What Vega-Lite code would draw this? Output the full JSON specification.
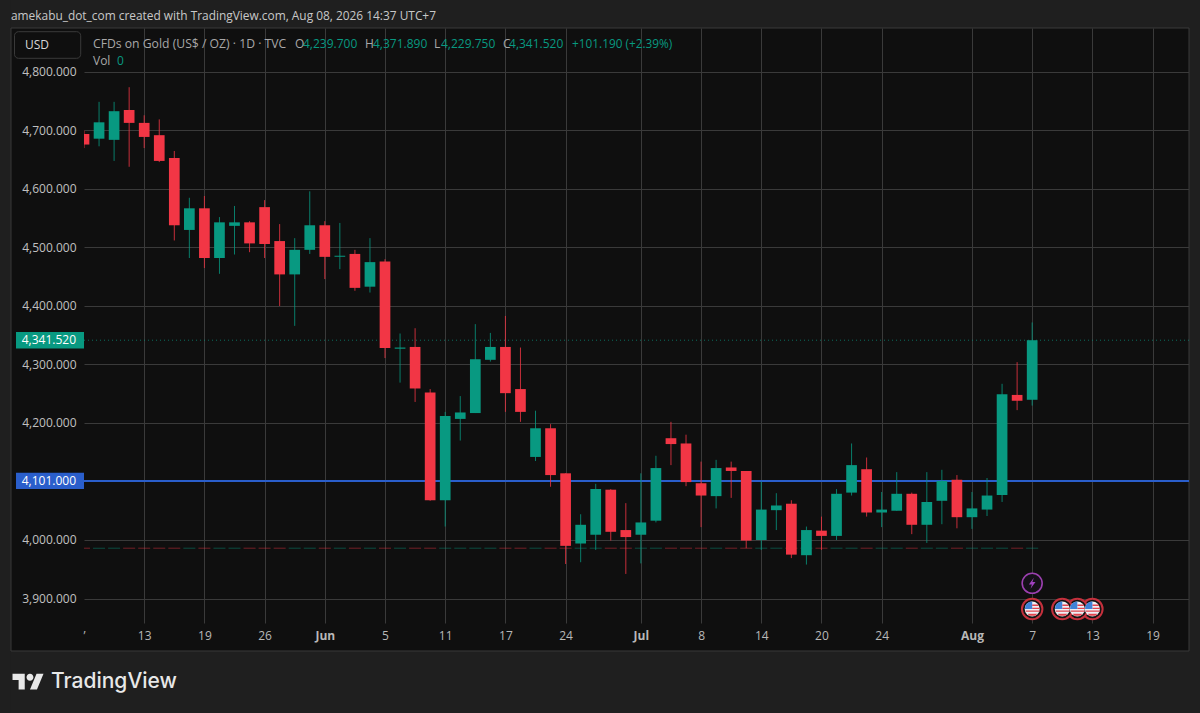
{"$schema":"https://vega.github.io/schema/vega-lite/v6.json","width":1105,"height":595,"autosize":"none","padding":{"left":84,"top":28,"right":11,"bottom":90},"background":"#0f0f0f","config":{"view":{"stroke":null},"font":"Open Sans"},
"datasets":{"candles":[
{"session":-4,"date":"2026-05-07","open":4694,"high":4700,"low":4670,"close":4676,"dir":"down"},
{"session":-3,"date":"2026-05-08","open":4686,"high":4749,"low":4673,"close":4714,"dir":"up"},
{"session":-2,"date":"2026-05-11","open":4684,"high":4749,"low":4648,"close":4733,"dir":"up"},
{"session":-1,"date":"2026-05-12","open":4735,"high":4774,"low":4638,"close":4713,"dir":"down"},
{"session":0,"date":"2026-05-13","open":4713,"high":4726,"low":4670,"close":4689,"dir":"down"},
{"session":1,"date":"2026-05-14","open":4692,"high":4719,"low":4646,"close":4648,"dir":"down"},
{"session":2,"date":"2026-05-15","open":4653,"high":4665,"low":4512,"close":4538,"dir":"down"},
{"session":3,"date":"2026-05-18","open":4530,"high":4585,"low":4482,"close":4567,"dir":"up"},
{"session":4,"date":"2026-05-19","open":4567,"high":4588,"low":4465,"close":4482,"dir":"down"},
{"session":5,"date":"2026-05-20","open":4482,"high":4552,"low":4455,"close":4543,"dir":"up"},
{"session":6,"date":"2026-05-21","open":4537,"high":4571,"low":4488,"close":4543,"dir":"up"},
{"session":7,"date":"2026-05-22","open":4543,"high":4545,"low":4492,"close":4507,"dir":"down"},
{"session":8,"date":"2026-05-26","open":4569,"high":4581,"low":4482,"close":4506,"dir":"down"},
{"session":9,"date":"2026-05-27","open":4511,"high":4540,"low":4400,"close":4454,"dir":"down"},
{"session":10,"date":"2026-05-28","open":4454,"high":4516,"low":4366,"close":4496,"dir":"up"},
{"session":11,"date":"2026-05-29","open":4496,"high":4596,"low":4489,"close":4538,"dir":"up"},
{"session":12,"date":"2026-06-01","open":4538,"high":4545,"low":4446,"close":4484,"dir":"down"},
{"session":13,"date":"2026-06-02","open":4484,"high":4542,"low":4463,"close":4486,"dir":"up"},
{"session":14,"date":"2026-06-03","open":4489,"high":4496,"low":4426,"close":4431,"dir":"down"},
{"session":15,"date":"2026-06-04","open":4433,"high":4516,"low":4423,"close":4475,"dir":"up"},
{"session":16,"date":"2026-06-05","open":4476,"high":4480,"low":4311,"close":4328,"dir":"down"},
{"session":17,"date":"2026-06-08","open":4327,"high":4353,"low":4269,"close":4329,"dir":"up"},
{"session":18,"date":"2026-06-09","open":4330,"high":4362,"low":4236,"close":4259,"dir":"down"},
{"session":19,"date":"2026-06-10","open":4252,"high":4258,"low":4067,"close":4068,"dir":"down"},
{"session":20,"date":"2026-06-11","open":4068,"high":4219,"low":4023,"close":4212,"dir":"up"},
{"session":21,"date":"2026-06-12","open":4207,"high":4246,"low":4170,"close":4218,"dir":"up"},
{"session":22,"date":"2026-06-15","open":4217,"high":4369,"low":4217,"close":4309,"dir":"up"},
{"session":23,"date":"2026-06-16","open":4308,"high":4354,"low":4305,"close":4330,"dir":"up"},
{"session":24,"date":"2026-06-17","open":4330,"high":4383,"low":4219,"close":4251,"dir":"down"},
{"session":25,"date":"2026-06-18","open":4258,"high":4329,"low":4202,"close":4219,"dir":"down"},
{"session":26,"date":"2026-06-22","open":4142,"high":4221,"low":4135,"close":4191,"dir":"up"},
{"session":27,"date":"2026-06-23","open":4191,"high":4198,"low":4091,"close":4111,"dir":"down"},
{"session":28,"date":"2026-06-24","open":4114,"high":4114,"low":3959,"close":3990,"dir":"down"},
{"session":29,"date":"2026-06-25","open":3994,"high":4044,"low":3962,"close":4026,"dir":"up"},
{"session":30,"date":"2026-06-26","open":4009,"high":4096,"low":3983,"close":4087,"dir":"up"},
{"session":31,"date":"2026-06-29","open":4086,"high":4087,"low":3999,"close":4014,"dir":"down"},
{"session":32,"date":"2026-06-30","open":4017,"high":4063,"low":3942,"close":4005,"dir":"down"},
{"session":33,"date":"2026-07-01","open":4009,"high":4114,"low":3960,"close":4030,"dir":"up"},
{"session":34,"date":"2026-07-02","open":4033,"high":4144,"low":4030,"close":4123,"dir":"up"},
{"session":35,"date":"2026-07-06","open":4174,"high":4202,"low":4128,"close":4164,"dir":"down"},
{"session":36,"date":"2026-07-07","open":4165,"high":4180,"low":4092,"close":4099,"dir":"down"},
{"session":37,"date":"2026-07-08","open":4097,"high":4134,"low":4022,"close":4076,"dir":"down"},
{"session":38,"date":"2026-07-09","open":4075,"high":4137,"low":4054,"close":4123,"dir":"up"},
{"session":39,"date":"2026-07-10","open":4124,"high":4134,"low":4072,"close":4118,"dir":"down"},
{"session":40,"date":"2026-07-13","open":4118,"high":4118,"low":3986,"close":3999,"dir":"down"},
{"session":41,"date":"2026-07-14","open":4000,"high":4100,"low":3983,"close":4052,"dir":"up"},
{"session":42,"date":"2026-07-15","open":4051,"high":4080,"low":4017,"close":4059,"dir":"up"},
{"session":43,"date":"2026-07-16","open":4062,"high":4068,"low":3969,"close":3975,"dir":"down"},
{"session":44,"date":"2026-07-17","open":3974,"high":4023,"low":3958,"close":4017,"dir":"up"},
{"session":45,"date":"2026-07-20","open":4016,"high":4040,"low":3983,"close":4007,"dir":"down"},
{"session":46,"date":"2026-07-21","open":4007,"high":4087,"low":4000,"close":4079,"dir":"up"},
{"session":47,"date":"2026-07-22","open":4081,"high":4165,"low":4076,"close":4128,"dir":"up"},
{"session":48,"date":"2026-07-23","open":4121,"high":4141,"low":4040,"close":4047,"dir":"down"},
{"session":49,"date":"2026-07-24","open":4047,"high":4082,"low":4022,"close":4052,"dir":"up"},
{"session":50,"date":"2026-07-27","open":4050,"high":4116,"low":4050,"close":4079,"dir":"up"},
{"session":51,"date":"2026-07-28","open":4079,"high":4081,"low":4010,"close":4026,"dir":"down"},
{"session":52,"date":"2026-07-29","open":4026,"high":4116,"low":3995,"close":4065,"dir":"up"},
{"session":53,"date":"2026-07-30","open":4067,"high":4120,"low":4027,"close":4101,"dir":"up"},
{"session":54,"date":"2026-07-31","open":4103,"high":4111,"low":4020,"close":4039,"dir":"down"},
{"session":55,"date":"2026-08-03","open":4039,"high":4082,"low":4019,"close":4054,"dir":"up"},
{"session":56,"date":"2026-08-04","open":4052,"high":4106,"low":4041,"close":4076,"dir":"up"},
{"session":57,"date":"2026-08-05","open":4077,"high":4267,"low":4065,"close":4249,"dir":"up"},
{"session":58,"date":"2026-08-06","open":4248,"high":4304,"low":4222,"close":4238,"dir":"down"},
{"session":59,"date":"2026-08-07","open":4239.7,"high":4371.89,"low":4229.75,"close":4341.52,"dir":"up"}
],
"flags":[{"session":63,"event":"US"},{"session":62,"event":"US"},{"session":61,"event":"US"},{"session":59,"event":"US"}]},
"layer":[
{"data":{"values":[{"t":"top"}]},"mark":{"type":"rect","fill":"#1f1f1f","clip":false},"encoding":{"x":{"datum":-9.581,"type":"quantitative","scale":{"domain":[-4,69.42],"nice":false,"zero":false,"padding":0}},"x2":{"datum":70.153},"y":{"datum":4923.08,"type":"quantitative","scale":{"domain":[3858.12,4875.21],"nice":false,"zero":false}},"y2":{"datum":4875.21}}},
{"data":{"values":[{"t":"bottom"}]},"mark":{"type":"rect","fill":"#1f1f1f","clip":false},"encoding":{"x":{"datum":-9.581,"type":"quantitative","scale":{"domain":[-4,69.42],"nice":false,"zero":false,"padding":0}},"x2":{"datum":70.153},"y":{"datum":3810.26,"type":"quantitative","scale":{"domain":[3858.12,4875.21],"nice":false,"zero":false}},"y2":{"datum":3704.27}}},
{"data":{"values":[{"t":"left"}]},"mark":{"type":"rect","fill":"#1f1f1f","clip":false},"encoding":{"x":{"datum":-9.581,"type":"quantitative","scale":{"domain":[-4,69.42],"nice":false,"zero":false,"padding":0}},"x2":{"datum":-8.851},"y":{"datum":4923.08,"type":"quantitative","scale":{"domain":[3858.12,4875.21],"nice":false,"zero":false}},"y2":{"datum":3704.27}}},
{"data":{"values":[{"t":"right"}]},"mark":{"type":"rect","fill":"#1f1f1f","clip":false},"encoding":{"x":{"datum":69.42,"type":"quantitative","scale":{"domain":[-4,69.42],"nice":false,"zero":false,"padding":0}},"x2":{"datum":70.153},"y":{"datum":4923.08,"type":"quantitative","scale":{"domain":[3858.12,4875.21],"nice":false,"zero":false}},"y2":{"datum":3704.27}}},
{"data":{"values":[{"t":"panel"}]},"mark":{"type":"rect","fill":"transparent","stroke":"#3a3a3a","strokeWidth":1,"clip":false},"encoding":{"x":{"datum":-8.851,"type":"quantitative","scale":{"domain":[-4,69.42],"nice":false,"zero":false,"padding":0}},"x2":{"datum":69.42},"y":{"datum":4875.21,"type":"quantitative","scale":{"domain":[3858.12,4875.21],"nice":false,"zero":false}},"y2":{"datum":3810.26}}},
{"data":{"values":[{"t":"level"}]},"mark":{"type":"rule","color":"#2a5ecb","strokeWidth":2},"encoding":{"y":{"datum":4101,"type":"quantitative","scale":{"domain":[3858.12,4875.21],"nice":false,"zero":false}}}},
{"data":{"values":[{"t":"last"}]},"mark":{"type":"rule","color":"#089981","strokeWidth":1,"strokeDash":[1,3],"opacity":0.7},"encoding":{"y":{"datum":4341.52,"type":"quantitative","scale":{"domain":[3858.12,4875.21],"nice":false,"zero":false}}}},
{"data":{"name":"candles"},"mark":{"type":"tick","orient":"horizontal","size":12,"thickness":1,"opacity":0.45,"clip":true},"encoding":{"x":{"field":"session","type":"quantitative","scale":{"domain":[-4,69.42],"nice":false,"zero":false,"padding":0}},"y":{"datum":3986,"type":"quantitative","scale":{"domain":[3858.12,4875.21],"nice":false,"zero":false}},"color":{"field":"dir","type":"nominal","scale":{"domain":["up","down"],"range":["#089981","#f23645"]},"legend":null}}},
{"data":{"name":"candles"},"mark":{"type":"rule","strokeWidth":1,"opacity":0.8,"clip":true},"encoding":{"x":{"field":"session","type":"quantitative","scale":{"domain":[-4,69.42],"nice":false,"zero":false,"padding":0},
"axis":{"values":[-4,0,4,8,12,16,20,24,28,33,37,41,45,49,55,59,63,67],"title":null,"grid":true,"gridColor":"#3a3a3a","gridOpacity":{"condition":{"test":"datum.value==-4","value":0},"value":1},"domain":false,"ticks":false,"labelPadding":7,"labelFontSize":12,"labelFont":"Open Sans","labelColor":"#b8b8b8","labelBound":false,"labelFlush":false,"labelOverlap":false,"labelFontWeight":{"condition":{"test":"datum.value==12||datum.value==33||datum.value==55","value":"bold"},"value":"normal"},
"labelExpr":"{'-4':'’','0':'13','4':'19','8':'26','12':'Jun','16':'5','20':'11','24':'17','28':'24','33':'Jul','37':'8','41':'14','45':'20','49':'24','55':'Aug','59':'7','63':'13','67':'19'}[''+datum.value]"}},
"y":{"field":"low","type":"quantitative","scale":{"domain":[3858.12,4875.21],"nice":false,"zero":false},"axis":{"values":[4800,4700,4600,4500,4400,4300,4200,4100,4000,3900],"format":",.3f","title":null,"grid":true,"gridColor":"#3a3a3a","domain":false,"ticks":false,"labelPadding":8,"labelFontSize":12,"labelFont":"Open Sans","labelColor":"#c0c0c0"}},"y2":{"field":"high"},"color":{"field":"dir","type":"nominal","scale":{"domain":["up","down"],"range":["#089981","#f23645"]},"legend":null}}},
{"data":{"name":"candles"},"mark":{"type":"bar","size":10.7,"orient":"vertical","clip":true},"encoding":{"x":{"field":"session","type":"quantitative","scale":{"domain":[-4,69.42],"nice":false,"zero":false,"padding":0}},"y":{"field":"open","type":"quantitative","scale":{"domain":[3858.12,4875.21],"nice":false,"zero":false}},"y2":{"field":"close"},"color":{"field":"dir","type":"nominal","scale":{"domain":["up","down"],"range":["#089981","#f23645"]},"legend":null}}},
{"data":{"values":[{"t":"last"}]},"mark":{"type":"rect","fill":"#089981","clip":false},"encoding":{"x":{"datum":-8.518,"type":"quantitative","scale":{"domain":[-4,69.42],"nice":false,"zero":false,"padding":0}},"x2":{"datum":-4},"y":{"datum":4355.5,"type":"quantitative","scale":{"domain":[3858.12,4875.21],"nice":false,"zero":false}},"y2":{"datum":4327.5}}},
{"data":{"values":[{"t":"level"}]},"mark":{"type":"rect","fill":"#2a5ecb","clip":false},"encoding":{"x":{"datum":-8.518,"type":"quantitative","scale":{"domain":[-4,69.42],"nice":false,"zero":false,"padding":0}},"x2":{"datum":-4},"y":{"datum":4115,"type":"quantitative","scale":{"domain":[3858.12,4875.21],"nice":false,"zero":false}},"y2":{"datum":4087}}},
{"data":{"values":[{"t":"usd"}]},"mark":{"type":"rect","fill":"#0f0f0f","stroke":"#3a3a3a","cornerRadius":4,"clip":false},"encoding":{"x":{"datum":-8.618,"type":"quantitative","scale":{"domain":[-4,69.42],"nice":false,"zero":false,"padding":0}},"x2":{"datum":-4.219},"y":{"datum":4868.9,"type":"quantitative","scale":{"domain":[3858.12,4875.21],"nice":false,"zero":false}},"y2":{"datum":4823.4}}},
{"data":{"values":[{"t":"4,341.520"}]},"mark":{"type":"text","align":"right","baseline":"middle","font":"Open Sans","fontSize":12,"color":"#ffffff","clip":false},"encoding":{"text":{"field":"t"},"x":{"datum":-4.53,"type":"quantitative","scale":{"domain":[-4,69.42],"nice":false,"zero":false,"padding":0}},"y":{"datum":4341.52,"type":"quantitative","scale":{"domain":[3858.12,4875.21],"nice":false,"zero":false}}}},
{"data":{"values":[{"t":"4,101.000"}]},"mark":{"type":"text","align":"right","baseline":"middle","font":"Open Sans","fontSize":12,"color":"#ffffff","clip":false},"encoding":{"text":{"field":"t"},"x":{"datum":-4.53,"type":"quantitative","scale":{"domain":[-4,69.42],"nice":false,"zero":false,"padding":0}},"y":{"datum":4101,"type":"quantitative","scale":{"domain":[3858.12,4875.21],"nice":false,"zero":false}}}},
{"data":{"values":[{"t":"USD"}]},"mark":{"type":"text","align":"left","baseline":"middle","font":"Open Sans","fontSize":12,"color":"#d8d8d8","clip":false},"encoding":{"text":{"field":"t"},"x":{"datum":-7.92,"type":"quantitative","scale":{"domain":[-4,69.42],"nice":false,"zero":false,"padding":0}},"y":{"datum":4846,"type":"quantitative","scale":{"domain":[3858.12,4875.21],"nice":false,"zero":false}}}},
{"data":{"values":[{"t":"amekabu_dot_com created with TradingView.com, Aug 08, 2026 14:37 UTC+7"}]},"mark":{"type":"text","align":"left","baseline":"middle","font":"Open Sans","fontSize":11.9,"color":"#c8c8c8","clip":false},"encoding":{"text":{"field":"t"},"x":{"datum":-8.851,"type":"quantitative","scale":{"domain":[-4,69.42],"nice":false,"zero":false,"padding":0}},"y":{"datum":4895.7,"type":"quantitative","scale":{"domain":[3858.12,4875.21],"nice":false,"zero":false}}}},
{"data":{"values":[{"t":"CFDs on Gold (US$ / OZ) · 1D · TVC"}]},"mark":{"type":"text","align":"left","baseline":"middle","font":"Open Sans","fontSize":12.2,"color":"#a8a8a8","clip":false},"encoding":{"text":{"field":"t"},"x":{"datum":-3.402,"type":"quantitative","scale":{"domain":[-4,69.42],"nice":false,"zero":false,"padding":0}},"y":{"datum":4847.9,"type":"quantitative","scale":{"domain":[3858.12,4875.21],"nice":false,"zero":false}}}},
{"data":{"values":[{"t":"O"}]},"mark":{"type":"text","align":"left","baseline":"middle","font":"Open Sans","fontSize":12,"color":"#a8a8a8","clip":false},"encoding":{"text":{"field":"t"},"x":{"datum":10.02,"type":"quantitative","scale":{"domain":[-4,69.42],"nice":false,"zero":false,"padding":0}},"y":{"datum":4847.9,"type":"quantitative","scale":{"domain":[3858.12,4875.21],"nice":false,"zero":false}}}},
{"data":{"values":[{"t":"4,239.700"}]},"mark":{"type":"text","align":"left","baseline":"middle","font":"Open Sans","fontSize":12,"color":"#089981","clip":false},"encoding":{"text":{"field":"t"},"x":{"datum":10.55,"type":"quantitative","scale":{"domain":[-4,69.42],"nice":false,"zero":false,"padding":0}},"y":{"datum":4847.9,"type":"quantitative","scale":{"domain":[3858.12,4875.21],"nice":false,"zero":false}}}},
{"data":{"values":[{"t":"H"}]},"mark":{"type":"text","align":"left","baseline":"middle","font":"Open Sans","fontSize":12,"color":"#a8a8a8","clip":false},"encoding":{"text":{"field":"t"},"x":{"datum":14.67,"type":"quantitative","scale":{"domain":[-4,69.42],"nice":false,"zero":false,"padding":0}},"y":{"datum":4847.9,"type":"quantitative","scale":{"domain":[3858.12,4875.21],"nice":false,"zero":false}}}},
{"data":{"values":[{"t":"4,371.890"}]},"mark":{"type":"text","align":"left","baseline":"middle","font":"Open Sans","fontSize":12,"color":"#089981","clip":false},"encoding":{"text":{"field":"t"},"x":{"datum":15.2,"type":"quantitative","scale":{"domain":[-4,69.42],"nice":false,"zero":false,"padding":0}},"y":{"datum":4847.9,"type":"quantitative","scale":{"domain":[3858.12,4875.21],"nice":false,"zero":false}}}},
{"data":{"values":[{"t":"L"}]},"mark":{"type":"text","align":"left","baseline":"middle","font":"Open Sans","fontSize":12,"color":"#a8a8a8","clip":false},"encoding":{"text":{"field":"t"},"x":{"datum":19.26,"type":"quantitative","scale":{"domain":[-4,69.42],"nice":false,"zero":false,"padding":0}},"y":{"datum":4847.9,"type":"quantitative","scale":{"domain":[3858.12,4875.21],"nice":false,"zero":false}}}},
{"data":{"values":[{"t":"4,229.750"}]},"mark":{"type":"text","align":"left","baseline":"middle","font":"Open Sans","fontSize":12,"color":"#089981","clip":false},"encoding":{"text":{"field":"t"},"x":{"datum":19.72,"type":"quantitative","scale":{"domain":[-4,69.42],"nice":false,"zero":false,"padding":0}},"y":{"datum":4847.9,"type":"quantitative","scale":{"domain":[3858.12,4875.21],"nice":false,"zero":false}}}},
{"data":{"values":[{"t":"C"}]},"mark":{"type":"text","align":"left","baseline":"middle","font":"Open Sans","fontSize":12,"color":"#a8a8a8","clip":false},"encoding":{"text":{"field":"t"},"x":{"datum":23.84,"type":"quantitative","scale":{"domain":[-4,69.42],"nice":false,"zero":false,"padding":0}},"y":{"datum":4847.9,"type":"quantitative","scale":{"domain":[3858.12,4875.21],"nice":false,"zero":false}}}},
{"data":{"values":[{"t":"4,341.520"}]},"mark":{"type":"text","align":"left","baseline":"middle","font":"Open Sans","fontSize":12,"color":"#089981","clip":false},"encoding":{"text":{"field":"t"},"x":{"datum":24.24,"type":"quantitative","scale":{"domain":[-4,69.42],"nice":false,"zero":false,"padding":0}},"y":{"datum":4847.9,"type":"quantitative","scale":{"domain":[3858.12,4875.21],"nice":false,"zero":false}}}},
{"data":{"values":[{"t":"+101.190 (+2.39%)"}]},"mark":{"type":"text","align":"left","baseline":"middle","font":"Open Sans","fontSize":11.8,"color":"#089981","clip":false},"encoding":{"text":{"field":"t"},"x":{"datum":28.43,"type":"quantitative","scale":{"domain":[-4,69.42],"nice":false,"zero":false,"padding":0}},"y":{"datum":4847.9,"type":"quantitative","scale":{"domain":[3858.12,4875.21],"nice":false,"zero":false}}}},
{"data":{"values":[{"t":"Vol"}]},"mark":{"type":"text","align":"left","baseline":"middle","font":"Open Sans","fontSize":12,"color":"#a8a8a8","clip":false},"encoding":{"text":{"field":"t"},"x":{"datum":-3.402,"type":"quantitative","scale":{"domain":[-4,69.42],"nice":false,"zero":false,"padding":0}},"y":{"datum":4818.8,"type":"quantitative","scale":{"domain":[3858.12,4875.21],"nice":false,"zero":false}}}},
{"data":{"values":[{"t":"0"}]},"mark":{"type":"text","align":"left","baseline":"middle","font":"Open Sans","fontSize":12,"color":"#089981","clip":false},"encoding":{"text":{"field":"t"},"x":{"datum":-1.81,"type":"quantitative","scale":{"domain":[-4,69.42],"nice":false,"zero":false,"padding":0}},"y":{"datum":4818.8,"type":"quantitative","scale":{"domain":[3858.12,4875.21],"nice":false,"zero":false}}}},
{"data":{"values":[{"t":"TradingView"}]},"mark":{"type":"text","align":"left","baseline":"middle","font":"Inter","fontSize":21,"fontWeight":500,"color":"#e8e8e8","clip":false},"encoding":{"text":{"field":"t"},"x":{"datum":-6.193,"type":"quantitative","scale":{"domain":[-4,69.42],"nice":false,"zero":false,"padding":0}},"y":{"datum":3757.3,"type":"quantitative","scale":{"domain":[3858.12,4875.21],"nice":false,"zero":false}}}},
{"data":{"values":[{"t":"logo"}]},"mark":{"type":"point","filled":true,"size":961,"opacity":1,"color":"#e8e8e8","clip":false,"shape":"M-0.211,0.507L-0.606,0.507L-0.606,-0.113L-1,-0.113L-1,-0.507L-0.211,-0.507Z M0.577,0.507L0.127,0.507L0.549,-0.507L1,-0.507Z M-0.098,-0.282A0.225,0.225 0 1 0 0.352,-0.282A0.225,0.225 0 1 0 -0.098,-0.282Z"},"encoding":{"x":{"datum":-7.72,"type":"quantitative","scale":{"domain":[-4,69.42],"nice":false,"zero":false,"padding":0}},"y":{"datum":3757.8,"type":"quantitative","scale":{"domain":[3858.12,4875.21],"nice":false,"zero":false}}}},
{"data":{"values":[{"t":"news"}]},"mark":{"type":"point","filled":false,"shape":"circle","size":400,"opacity":1,"fill":"#141018","stroke":"#9c40b0","strokeWidth":1.6},"encoding":{"x":{"datum":59,"type":"quantitative","scale":{"domain":[-4,69.42],"nice":false,"zero":false,"padding":0}},"y":{"datum":3926,"type":"quantitative","scale":{"domain":[3858.12,4875.21],"nice":false,"zero":false}}}},
{"data":{"values":[{"t":"bolt"}]},"mark":{"type":"point","filled":true,"size":121,"opacity":1,"color":"#a040c0","shape":"M0.3,-1L-0.6,0.2L-0.05,0.2L-0.3,1L0.6,-0.25L0.05,-0.25Z"},"encoding":{"x":{"datum":59,"type":"quantitative","scale":{"domain":[-4,69.42],"nice":false,"zero":false,"padding":0}},"y":{"datum":3926,"type":"quantitative","scale":{"domain":[3858.12,4875.21],"nice":false,"zero":false}}}},
{"data":{"name":"flags"},"mark":{"type":"point","shape":"circle","size":420,"opacity":1,"filled":false,"fill":"#141414","stroke":"#c4303c","strokeWidth":2},"encoding":{"x":{"field":"session","type":"quantitative","scale":{"domain":[-4,69.42],"nice":false,"zero":false,"padding":0}},"y":{"datum":3882,"type":"quantitative","scale":{"domain":[3858.12,4875.21],"nice":false,"zero":false}}}},
{"data":{"name":"flags"},"mark":{"type":"point","shape":"circle","size":225,"opacity":1,"filled":true,"color":"#eef0f6"},"encoding":{"x":{"field":"session","type":"quantitative","scale":{"domain":[-4,69.42],"nice":false,"zero":false,"padding":0}},"y":{"datum":3882,"type":"quantitative","scale":{"domain":[3858.12,4875.21],"nice":false,"zero":false}}}},
{"data":{"name":"flags"},"mark":{"type":"point","size":225,"opacity":1,"filled":true,"color":"#e0454f","shape":"M-0.87,0.2L0.98,0.2L0.98,0.35L-0.87,0.35Z M-0.6,0.62L0.7,0.62L0.4,0.9L-0.4,0.9Z M0,-0.18L1,-0.18L1,-0.02L0,-0.02Z M0,-0.6L0.8,-0.6L0.9,-0.42L0,-0.42Z"},"encoding":{"x":{"field":"session","type":"quantitative","scale":{"domain":[-4,69.42],"nice":false,"zero":false,"padding":0}},"y":{"datum":3882,"type":"quantitative","scale":{"domain":[3858.12,4875.21],"nice":false,"zero":false}}}},
{"data":{"name":"flags"},"mark":{"type":"point","size":225,"opacity":1,"filled":true,"color":"#3f83d8","shape":"M-0.98,0L-0.87,-0.5A1,1 0 0 1 0,-1L0,0Z"},"encoding":{"x":{"field":"session","type":"quantitative","scale":{"domain":[-4,69.42],"nice":false,"zero":false,"padding":0}},"y":{"datum":3882,"type":"quantitative","scale":{"domain":[3858.12,4875.21],"nice":false,"zero":false}}}}
]}
